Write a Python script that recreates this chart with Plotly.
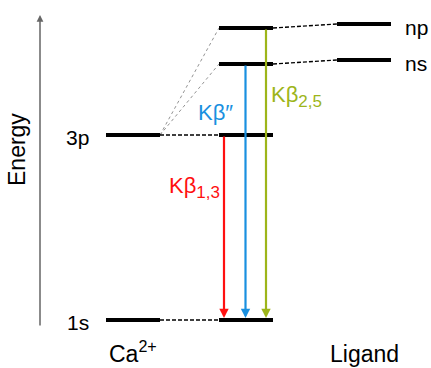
import plotly.graph_objects as go

# ---------------- data (energies in arbitrary units) ----------------
ca_levels = ["3p", "1s"]
ca_energy = [18.5, 0.0]

complex_levels = ["np", "ns", "3p", "1s"]
complex_energy = [29.2, 25.6, 18.5, 0.0]

ligand_levels = ["np", "ns"]
ligand_energy = [29.6, 26.0]

transition_main = ["Kβ", "Kβ″", "Kβ"]
transition_sub = ["1,3", "", "2,5"]
transition_from = ["3p", "ns", "np"]
transition_to = ["1s", "1s", "1s"]
transition_colors = ["#FF1010", "#1A90E0", "#9DB51A"]

column_names = ["Ca<sup>2+</sup>", "", "Ligand"]

# ---------------- layout constants (pixel-like x positions) ----------------
CA_X = (106, 160)
CX_X = (219, 273)
LG_X = (337, 391)
ARROW_X = [224, 245.5, 266]
FONT = "Arial, Liberation Sans, Helvetica, sans-serif"

ca = dict(zip(ca_levels, ca_energy))
cx = dict(zip(complex_levels, complex_energy))
lg = dict(zip(ligand_levels, ligand_energy))

fig = go.Figure()

def line(xs, ys, color="black", width=1.0, dash="solid"):
    fig.add_trace(go.Scatter(x=xs, y=ys, mode="lines", hoverinfo="skip",
                             line=dict(color=color, width=width, dash=dash),
                             showlegend=False))

# thin dotted correlation lines from Ca 3p to complex ns/np
for lvl in ["np", "ns"]:
    line([CA_X[1], CX_X[0]], [ca["3p"], cx[lvl]], color="#777777", width=0.8, dash="dot")

# dashed correlation lines
for lvl in ca_levels:
    line([CA_X[1], CX_X[0]], [ca[lvl], cx[lvl]], width=1.3, dash="4px,2px")
for lvl in ligand_levels:
    line([CX_X[1], LG_X[0]], [cx[lvl], lg[lvl]], width=1.3, dash="4px,2px")

# energy levels
for lvl in ca_levels:
    line(list(CA_X), [ca[lvl]] * 2, width=4)
for lvl in complex_levels:
    line(list(CX_X), [cx[lvl]] * 2, width=4)
for lvl in ligand_levels:
    line(list(LG_X), [lg[lvl]] * 2, width=4)

annotations = []

# transition arrows
for f, t, c, x in zip(transition_from, transition_to, transition_colors, ARROW_X):
    annotations.append(dict(x=x, y=cx[t] + 0.2, ax=x, ay=cx[f], xref="x", yref="y",
                            axref="x", ayref="y", text="", showarrow=True,
                            arrowhead=2, arrowsize=0.85, arrowwidth=2.2, arrowcolor=c,
                            standoff=0))

def label_text(main, sub):
    if not sub:
        return main
    return f"{main}<sub><span style='font-size:17px'>{sub}</span></sub>"

labels = [label_text(m, s) for m, s in zip(transition_main, transition_sub)]

# transition labels
lab_font = dict(family=FONT, size=22)
annotations.append(dict(x=ARROW_X[0] - 2, y=13.3, xref="x", yref="y", text=labels[0],
                        showarrow=False, xanchor="right", yanchor="middle",
                        font=dict(lab_font, color=transition_colors[0])))
annotations.append(dict(x=ARROW_X[1] - 11, y=20.8, xref="x", yref="y", text=labels[1],
                        showarrow=False, xanchor="right", yanchor="middle",
                        font=dict(lab_font, color=transition_colors[1])))
annotations.append(dict(x=ARROW_X[2] + 3, y=22.4, xref="x", yref="y", text=labels[2],
                        showarrow=False, xanchor="left", yanchor="middle",
                        font=dict(lab_font, color=transition_colors[2])))

# level labels
txt_font = dict(family=FONT, size=21, color="black")
for lvl in ca_levels:
    annotations.append(dict(x=CA_X[0] - 15, y=ca[lvl] - 0.2, xref="x", yref="y", text=lvl,
                            showarrow=False, xanchor="right", yanchor="middle", font=txt_font))
for lvl in ligand_levels:
    annotations.append(dict(x=LG_X[1] + 12, y=lg[lvl] - 0.3, xref="x", yref="y", text=lvl,
                            showarrow=False, xanchor="left", yanchor="middle", font=txt_font))

# column labels
col_font = dict(family=FONT, size=23, color="black")
for name, cols in zip(column_names, [CA_X, CX_X, LG_X]):
    if name:
        annotations.append(dict(x=(cols[0] + cols[1]) / 2, y=0, xref="x", yref="paper", text=name,
                                showarrow=False, xanchor="center", yanchor="bottom",
                                borderpad=0, font=col_font))

# energy axis arrow
annotations.append(dict(x=40, y=30.5, ax=40, ay=-0.7, xref="x", yref="y", axref="x", ayref="y",
                        text="", showarrow=True, arrowhead=2, arrowsize=0.9, arrowwidth=1.5,
                        arrowcolor="#666666", standoff=0))
annotations.append(dict(x=17, y=17.0, xref="x", yref="y", text="Energy", textangle=-90,
                        showarrow=False, xanchor="center", yanchor="middle",
                        font=dict(family=FONT, size=23, color="black")))

fig.update_layout(
    width=431, height=368,
    margin=dict(l=0, r=0, t=0, b=0),
    paper_bgcolor="white", plot_bgcolor="white",
    xaxis=dict(range=[0, 431], visible=False, fixedrange=True),
    yaxis=dict(range=[-4.8, 32.0], visible=False, fixedrange=True),
    annotations=annotations,
    showlegend=False,
)

fig.write_html("out.html", config={"displayModeBar": False},
               post_script="document.body.style.margin='0px';")
